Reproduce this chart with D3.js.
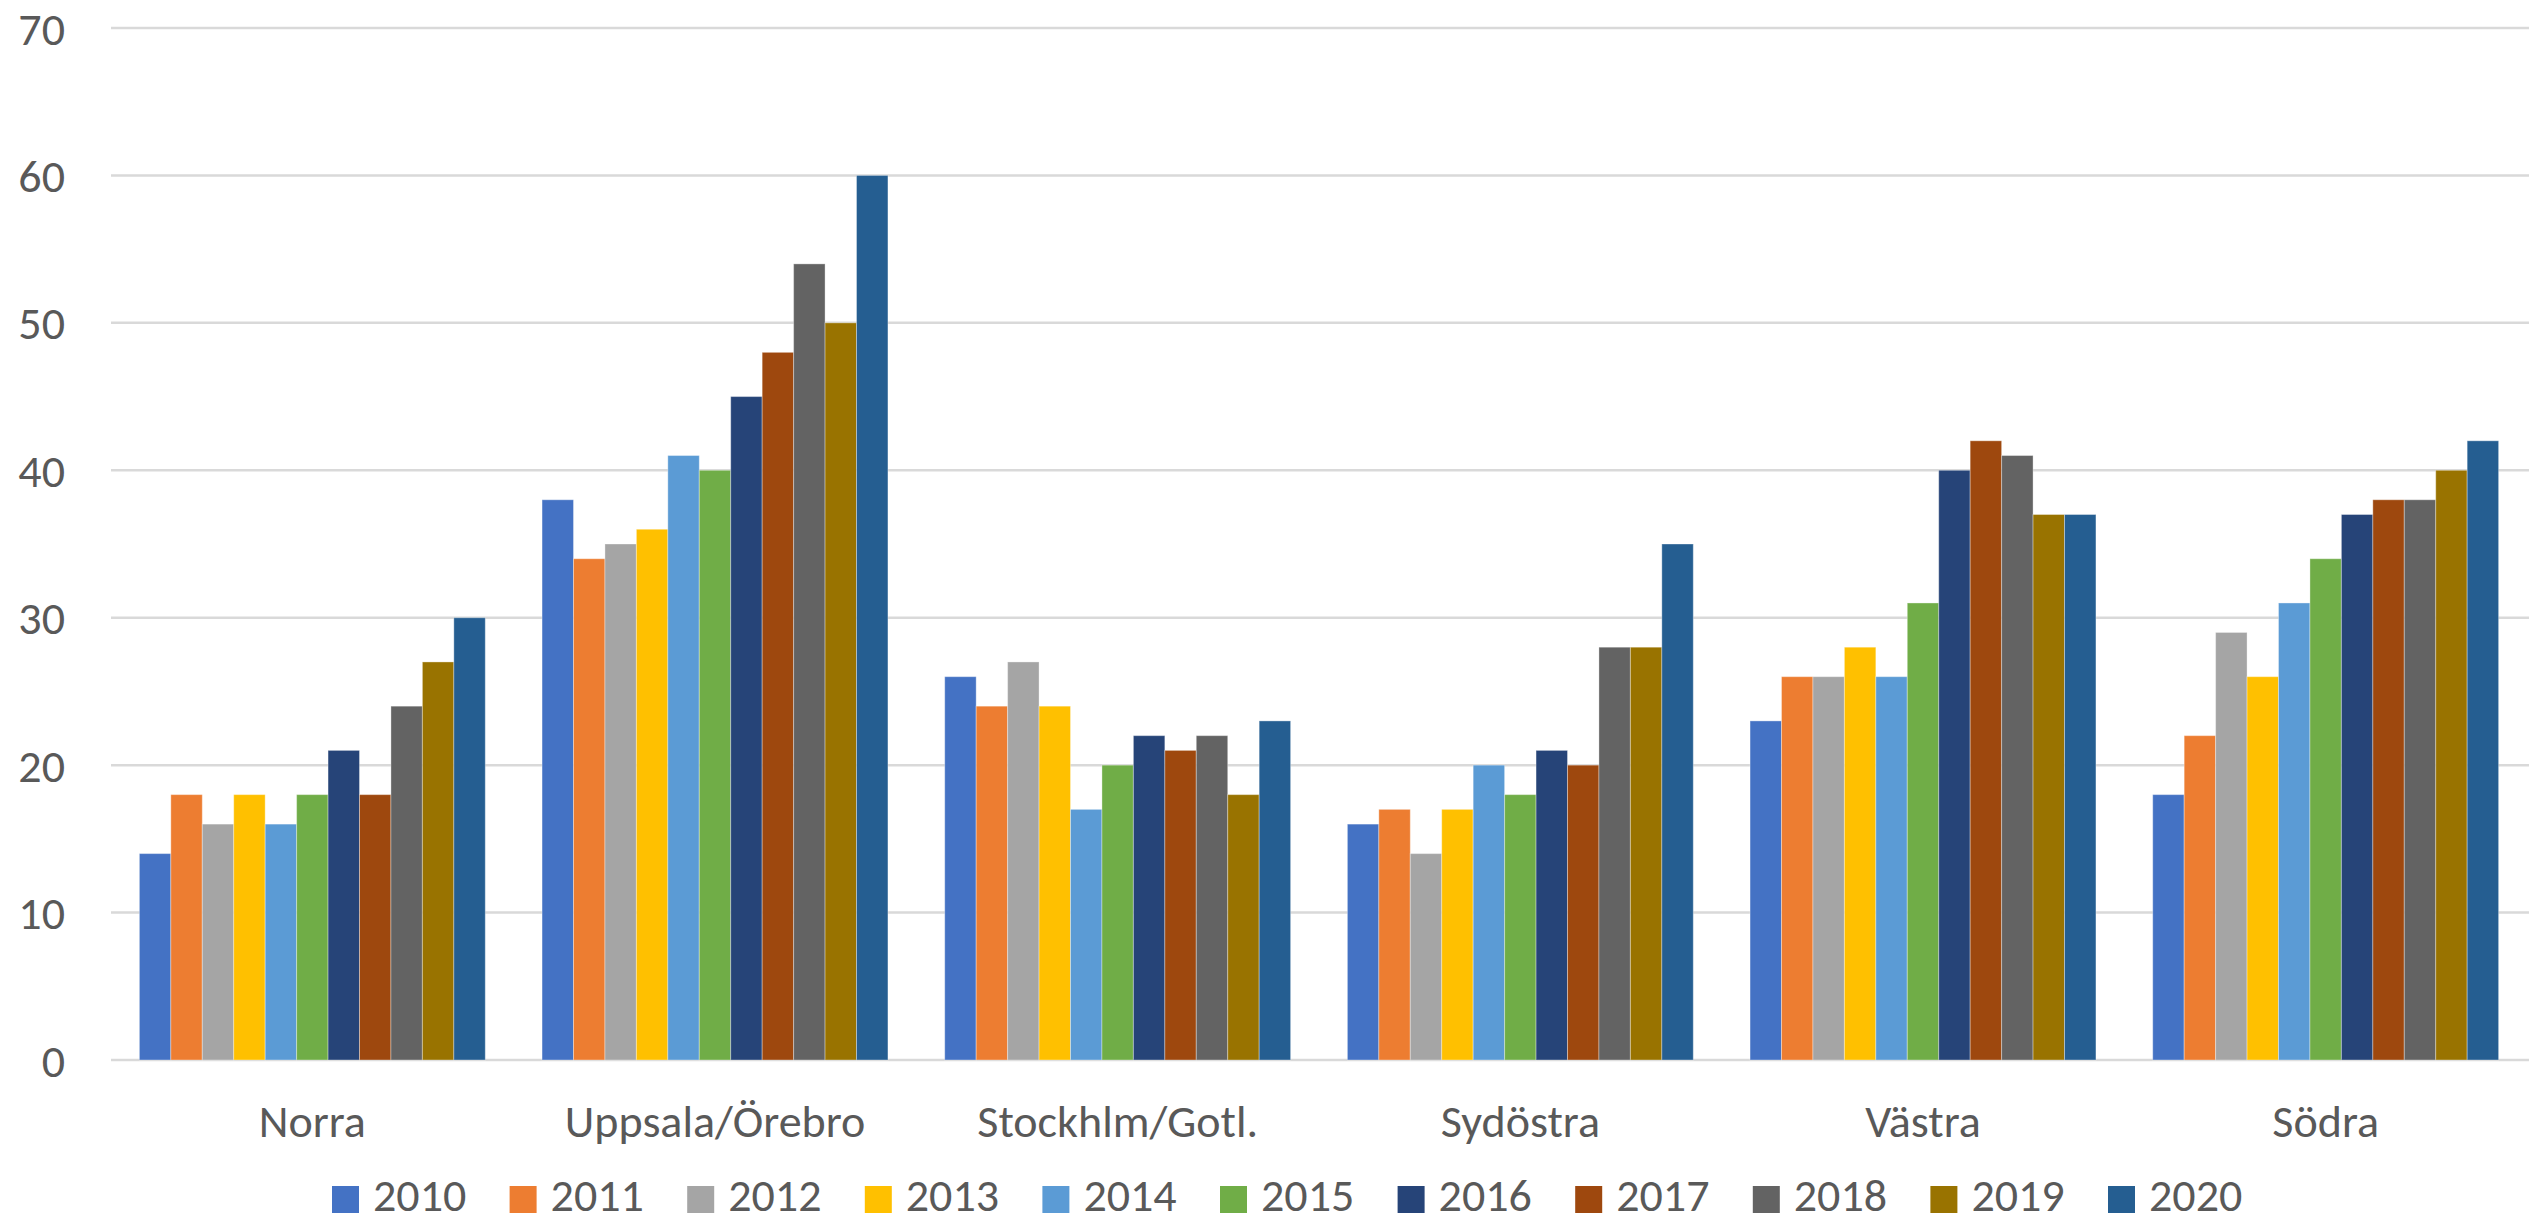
<!DOCTYPE html>
<html>
<head>
<meta charset="utf-8">
<script src="https://cdn.jsdelivr.net/npm/d3@7/dist/d3.min.js"></script>
<style>
  html, body { margin: 0; padding: 0; background: #ffffff; }
  svg { display: block; }
  text { font-family: Carlito, Calibri, "Liberation Sans", Arial, sans-serif; fill: #595959; }
</style>
</head>
<body>
<svg id="chart" width="2531" height="1224"></svg>
<script>
const categories = ["Norra", "Uppsala/Örebro", "Stockhlm/Gotl.", "Sydöstra", "Västra", "Södra"];
const years = ["2010", "2011", "2012", "2013", "2014", "2015", "2016", "2017", "2018", "2019", "2020"];
const colors = ["#4472C4", "#ED7D31", "#A5A5A5", "#FFC000", "#5B9BD5", "#70AD47", "#264478", "#9E480E", "#636363", "#997300", "#255E91"];
// values per category, in order of years
const norra     = [14, 18, 16, 18, 16, 18, 21, 18, 24, 27, 30];
const uppsala   = [38, 34, 35, 36, 41, 40, 45, 48, 54, 50, 60];
const stockholm = [26, 24, 27, 24, 17, 20, 22, 21, 22, 18, 23];
const sydostra  = [16, 17, 14, 17, 20, 18, 21, 20, 28, 28, 35];
const vastra    = [23, 26, 26, 28, 26, 31, 40, 42, 41, 37, 37];
const sodra     = [18, 22, 29, 26, 31, 34, 37, 38, 38, 40, 42];
const seriesByCategory = [norra, uppsala, stockholm, sydostra, vastra, sodra];
const yTicks = [0, 10, 20, 30, 40, 50, 60, 70];

const svg = d3.select("#chart");
const plotLeft = 111, plotRight = 2527, plotTop = 28, plotBottom = 1060;
const FONT = 'Carlito, Calibri, "Liberation Sans", Arial, sans-serif';

const x0 = d3.scaleBand().domain(categories).range([plotLeft, plotRight])
  .paddingInner(0.141).paddingOuter(0.0705);
const x1 = d3.scaleBand().domain(years).range([0, x0.bandwidth()]).padding(0);
const y = d3.scaleLinear().domain([0, 70]).range([plotBottom, plotTop]);

// gridlines
svg.append("g").selectAll("line").data(yTicks).join("line")
  .attr("x1", plotLeft).attr("x2", 2529)
  .attr("y1", d => y(d)).attr("y2", d => y(d))
  .attr("stroke", "#d9d9d9").attr("stroke-width", 2.5);

// y axis labels
const yAxis = d3.axisLeft(y).tickValues(yTicks).tickSize(0).tickPadding(0).tickFormat(d3.format("d"));
const gy = svg.append("g").attr("transform", "translate(65,0)").call(yAxis);
gy.select(".domain").remove();
gy.selectAll("text").attr("font-size", 46).attr("dy", "0.35em")
  .style("font-family", FONT).attr("fill", "#595959");

// bars
const groups = svg.append("g").selectAll("g").data(categories).join("g")
  .attr("transform", d => `translate(${x0(d)},0)`);
groups.selectAll("rect")
  .data((c, ci) => years.map((yr, i) => ({ yr, v: seriesByCategory[ci][i], color: colors[i] })))
  .join("rect")
  .attr("x", d => x1(d.yr))
  .attr("width", x1.bandwidth())
  .attr("y", d => y(d.v))
  .attr("height", d => y(0) - y(d.v))
  .attr("fill", d => d.color)
  .attr("stroke", "#ffffff").attr("stroke-opacity", 0.35).attr("stroke-width", 1);

// x axis labels
const xAxis = d3.axisBottom(x0).tickSize(0).tickPadding(0);
const gx = svg.append("g").attr("transform", "translate(0,1137)").call(xAxis);
gx.select(".domain").remove();
gx.selectAll("text").attr("font-size", 46).attr("dy", 0)
  .style("font-family", FONT).attr("fill", "#595959");

// legend
const legendX = d3.scaleBand().domain(years).range([332, 332 + 177.6 * 11]);
const lg = svg.append("g").selectAll("g").data(years).join("g")
  .attr("transform", d => `translate(${legendX(d)},0)`);
lg.append("rect").attr("x", 0).attr("y", 1186).attr("width", 27).attr("height", 27)
  .attr("fill", (d, i) => colors[i]);
lg.append("text").attr("x", 41).attr("y", 1211).attr("font-size", 46).text(d => d);
</script>
</body>
</html>
